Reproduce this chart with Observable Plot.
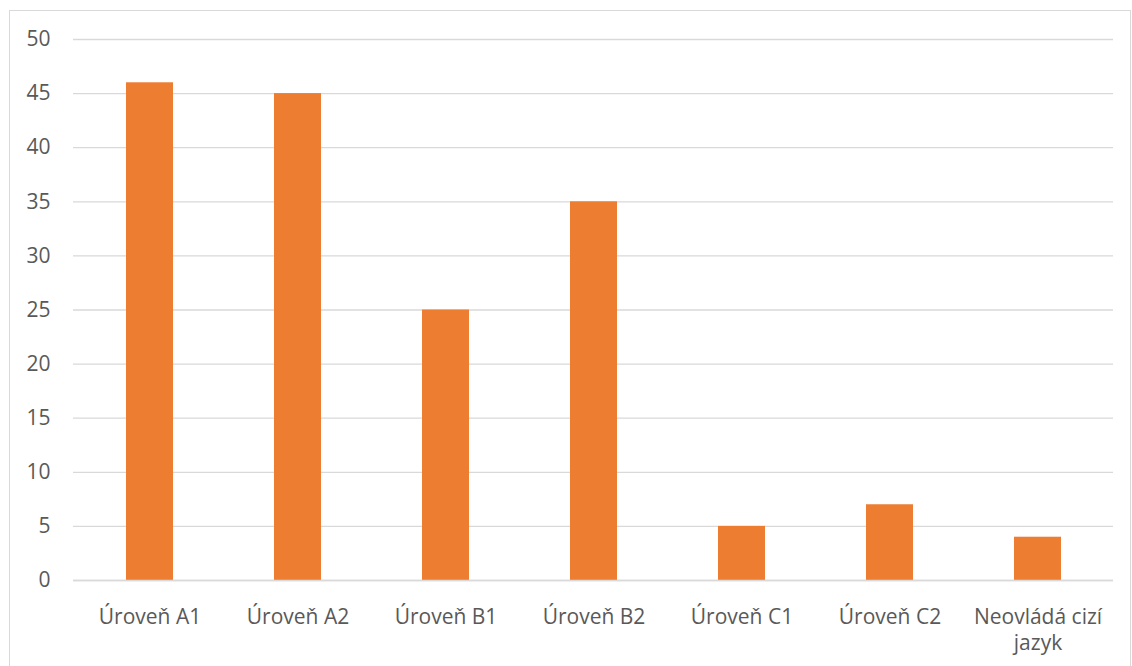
<!DOCTYPE html>
<html>
<head>
<meta charset="utf-8">
<script src="https://cdn.jsdelivr.net/npm/d3@7"></script>
<script src="https://cdn.jsdelivr.net/npm/@observablehq/plot@0.6"></script>
<style>
  html, body { margin: 0; padding: 0; background: #fff; }
  #wrap { position: relative; width: 1132px; height: 666px; overflow: hidden; }
  #frame { position: absolute; left: 9px; top: 10px; width: 1122px; height: 670px; border: 1px solid #d9d9d9; box-sizing: border-box; }
  #chart { position: absolute; left: 0; top: 0; }
</style>
</head>
<body>
<div id="wrap">
  <div id="frame"></div>
  <div id="chart"></div>
</div>
<script>
const categories = ["Úroveň A1", "Úroveň A2", "Úroveň B1", "Úroveň B2", "Úroveň C1", "Úroveň C2", "Neovládá cizí\njazyk"];
const values = [46, 45, 25, 35, 5, 7, 4];
const yTicks = [0, 5, 10, 15, 20, 25, 30, 35, 40, 45, 50];

const data = categories.map((c, i) => ({category: c, value: values[i]}));

const chart = Plot.plot({
  width: 1132,
  height: 666,
  marginLeft: 73,
  marginRight: 19,
  marginTop: 39,
  marginBottom: 86,
  style: {fontFamily: "'Open Sans', sans-serif", fontSize: "21px", color: "#595959", background: "transparent"},
  x: {domain: categories, paddingInner: 0.683, paddingOuter: 0.3415, align: 0.5},
  y: {domain: [0, 50]},
  marks: [
    Plot.gridY(yTicks, {stroke: "#d9d9d9", strokeOpacity: 1, strokeWidth: 1.3}),
    Plot.barY(data, {x: "category", y: "value", fill: "#ED7D31"}),
    Plot.ruleY([0], {stroke: "#d9d9d9", strokeWidth: 1.3}),
    Plot.axisY(yTicks, {tickSize: 0, tickPadding: 23, fill: "#595959", fontSize: 21, label: null}),
    Plot.axisX({tickSize: 0, tickPadding: 25, fill: "#595959", fontSize: 21, lineHeight: 1.25, label: null})
  ]
});
document.getElementById("chart").appendChild(chart);
</script>
</body>
</html>
